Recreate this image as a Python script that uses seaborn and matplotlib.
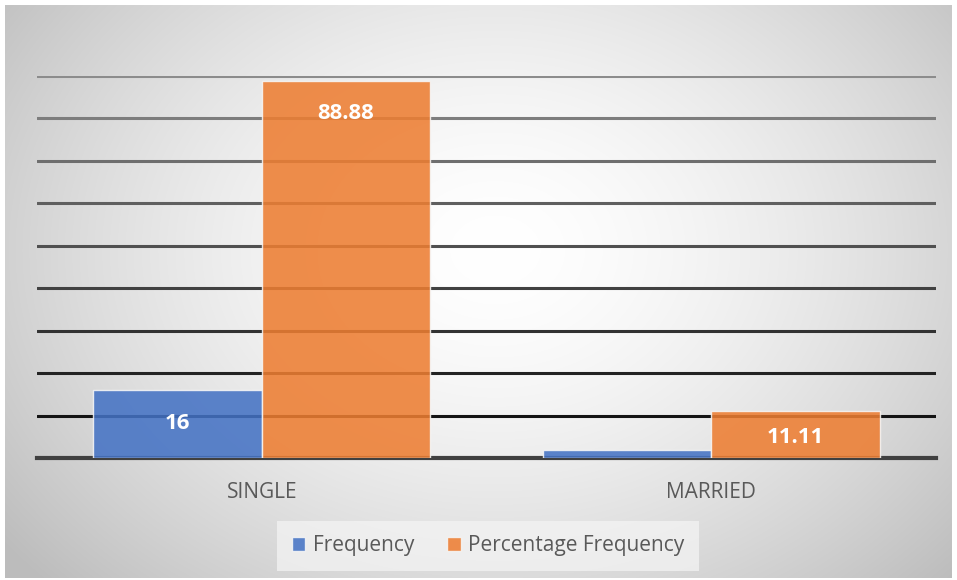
import numpy as np
import pandas as pd
import matplotlib
matplotlib.use("Agg")
import matplotlib.pyplot as plt
import seaborn as sns

categories = ["SINGLE", "MARRIED"]
series_names = ["Frequency", "Percentage Frequency"]
frequency = [16, 2]
percentage = [88.88, 11.11]
label_freq = ["16", ""]
label_pct = ["88.88", "11.11"]

df = pd.DataFrame({
    "Status": categories * 2,
    "Series": [series_names[0]] * 2 + [series_names[1]] * 2,
    "Value": frequency + percentage,
})

sns.set_theme(style="white")
plt.rcParams["font.family"] = ["Open Sans", "DejaVu Sans"]

fig = plt.figure(figsize=(9.57, 5.80), dpi=100)
fig.patch.set_facecolor("white")

# radial gradient background
bg = fig.add_axes([5 / 957, 2 / 580, 947 / 957, 573 / 580], zorder=-10)
h, w = 573, 947
yy, xx = np.mgrid[0:h, 0:w]
cx, cy = 490, 245
r = np.sqrt(((xx - cx) / 620.0) ** 2 + ((yy - cy) / 480.0) ** 2)
val = 1.0 - 0.26 * np.clip(r, 0, 1) ** 1.6
img = np.dstack([val, val, val])
bg.imshow(img, aspect="auto", extent=[0, 1, 0, 1])
bg.set_axis_off()

ax = fig.add_axes([37 / 957, (580 - 458) / 580, 899 / 957, (458 - 76) / 580])
ax.patch.set_alpha(0)

palette = {"Frequency": "#4472C4", "Percentage Frequency": "#ED7D31"}
sns.barplot(data=df, x="Status", y="Value", hue="Series", palette=palette,
            saturation=1, width=0.75, alpha=0.87, edgecolor="#f6f6f6",
            linewidth=1.0, ax=ax, legend=True, zorder=3)

ax.set_ylim(0, 90)
ax.set_xlim(-0.5, 1.5)
ax.set_yticks(np.arange(10, 100, 10))
ax.set_yticklabels([])
ax.tick_params(axis="y", length=0)
ax.tick_params(axis="x", length=0, pad=17, labelsize=15, labelcolor="#595959")
ax.set_xlabel("")
ax.set_ylabel("")
ax.set_axisbelow(True)
ax.yaxis.grid(True, linewidth=2.2)
gl = ax.get_ygridlines()
n = len(gl)
for i, line in enumerate(gl):
    t = i / max(n - 1, 1)
    c = 0.08 + 0.47 * t
    line.set_color((c, c, c))
for s in ["top", "right", "left"]:
    ax.spines[s].set_visible(False)
ax.spines["bottom"].set_color("#404040")
ax.spines["bottom"].set_linewidth(3)

# value labels
for cont, labels in zip(ax.containers, [label_freq, label_pct]):
    for patch, lab in zip(cont.patches, labels):
        if not lab:
            continue
        top = patch.get_height()
        xc = patch.get_x() + patch.get_width() / 2
        off = -33 if top > 13 else -26.5
        ax.annotate(lab, (xc, top), xytext=(0, off), textcoords="offset pixels",
                    ha="center", va="center", color="white", fontsize=16,
                    fontweight="bold", zorder=5)

leg = ax.legend(loc="center", bbox_to_anchor=(488 / 957, (580 - 546) / 580),
                bbox_transform=fig.transFigure, ncol=2, frameon=True,
                fontsize=15, handlelength=0.65, handleheight=0.65,
                handletextpad=0.35, columnspacing=1.6, borderpad=0.4)
leg.get_frame().set_facecolor("#f5f5f5")
leg.get_frame().set_edgecolor("none")
leg.get_frame().set_alpha(0.7)
leg.get_frame().set_boxstyle("square")
for t in leg.get_texts():
    t.set_color("#595959")

fig.savefig("out.png", dpi=100)
